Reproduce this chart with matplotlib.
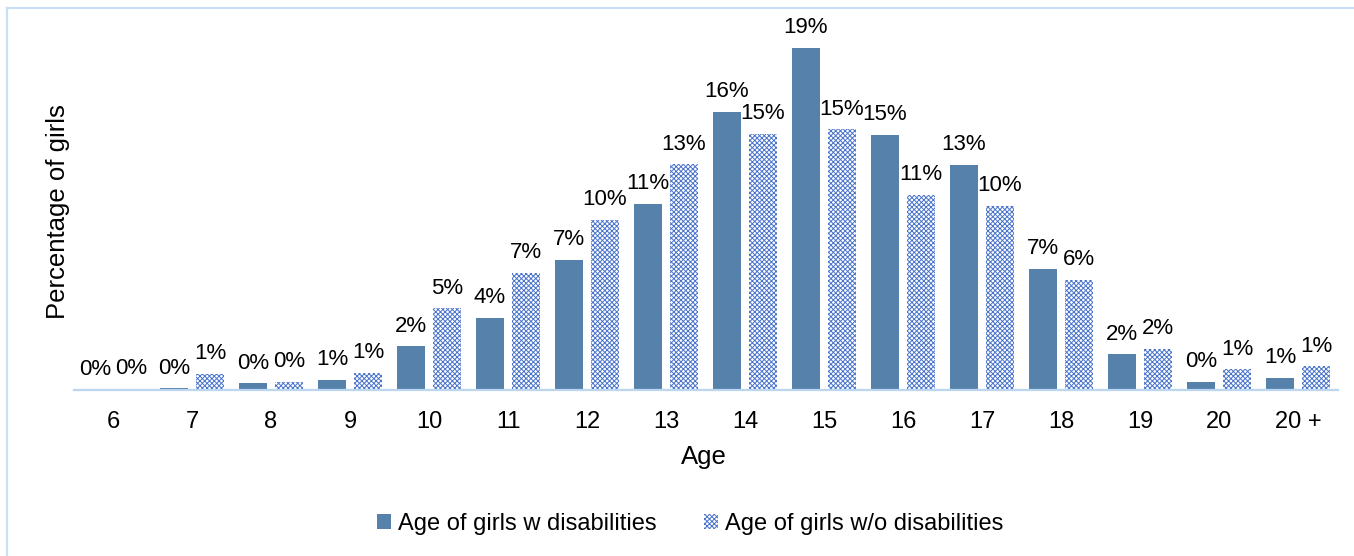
import numpy as np
import matplotlib
matplotlib.use("Agg")
import matplotlib.pyplot as plt

plt.rcParams['font.family'] = ['Liberation Sans', 'DejaVu Sans']
plt.rcParams['hatch.linewidth'] = 0.7

# share of girls at each age (%)
ages = ['6', '7', '8', '9', '10', '11', '12', '13', '14', '15', '16', '17', '18', '19', '20', '20 +']
with_dis = [0.0, 0.1, 0.38, 0.59, 2.48, 4.1, 7.42, 10.6, 15.81, 19.45, 14.53, 12.8, 6.88, 2.02, 0.46, 0.71]
without_dis = [0.07, 0.9, 0.47, 0.97, 4.65, 6.68, 9.67, 12.83, 14.56, 14.82, 11.09, 10.47, 6.26, 2.33, 1.17, 1.34]

solid = '#5681ab'
dotted = '#4a74cc'
frame = '#c9def7'

W, H = 1354, 556
fig = plt.figure(figsize=(W / 100, H / 100), dpi=100)
ax = fig.add_axes([73.5 / W, 166 / H, 1264 / W, 351.6 / H])

x = np.arange(len(ages))
bw = 0.365
off = 0.228
b1 = ax.bar(x - off, with_dis, bw, color=solid, linewidth=0,
            label='Age of girls w disabilities')
b2 = ax.bar(x + off, without_dis, bw, color='white', edgecolor=dotted,
            hatch='xxxxxxx', linewidth=0, label='Age of girls w/o disabilities')

for bars, vals in ((b1, with_dis), (b2, without_dis)):
    ax.bar_label(bars, labels=[f'{v:.0f}%' for v in vals], padding=7, fontsize=16)

ax.set_xlim(-0.5, len(ages) - 0.5)
ax.set_ylim(0, 20)
ax.set_xticks(x)
ax.set_xticklabels(ages, fontsize=17)
ax.tick_params(axis='x', length=0, pad=15)
ax.set_yticks([])
for s in ['top', 'right', 'left']:
    ax.spines[s].set_visible(False)
ax.spines['bottom'].set_color('#bcd6f0')
ax.spines['bottom'].set_linewidth(1.6)

fig.text(704 / W, 1 - 457 / H, 'Age', fontsize=18.5, ha='center', va='center')
fig.text(58 / W, 1 - 212 / H, 'Percentage of girls', fontsize=18.5,
         rotation=90, ha='center', va='center')

fig.legend(handles=[b1, b2], loc='center', bbox_to_anchor=(690 / W, 1 - 524 / H),
           ncol=2, frameon=False, fontsize=17, handlelength=0.6, handleheight=0.6,
           handletextpad=0.3, columnspacing=2.0)

# outer chart border (left and top edges)
fig.add_artist(plt.Line2D([6.5 / W, 6.5 / W], [0, 1 - 8 / H], color=frame, lw=1.6))
fig.add_artist(plt.Line2D([6.5 / W, 1], [1 - 8 / H, 1 - 8 / H], color=frame, lw=1.6))

fig.savefig('out.png', dpi=100)
